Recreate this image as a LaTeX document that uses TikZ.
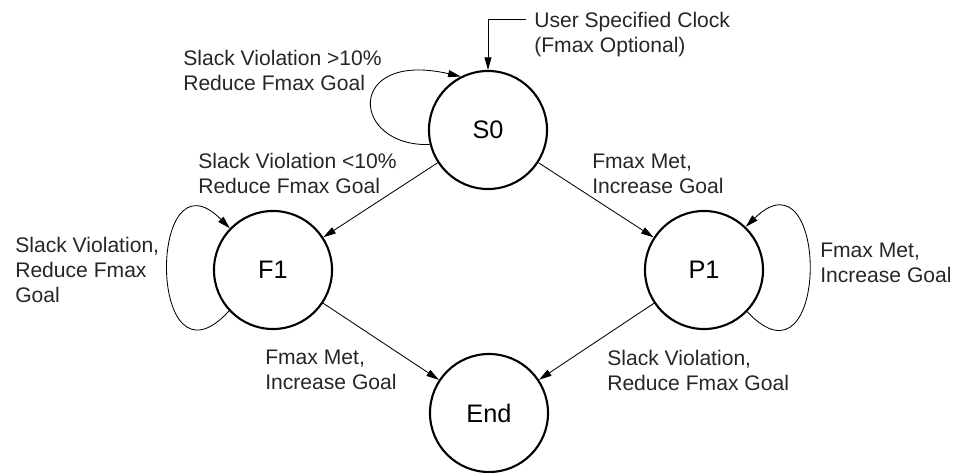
\documentclass[tikz,border=0pt]{standalone}
\usepackage{fontspec}
\setmainfont{Liberation Sans}
\usetikzlibrary{arrows.meta}
\tikzset{
  state/.style={circle, draw, line width=1.5pt, minimum size=2.95cm, inner sep=0pt, font=\fontsize{18}{20}\selectfont},
  lbl/.style={anchor=north west, align=left, inner sep=0pt, text=black!85},
  arr/.style={line width=0.6pt, -{Triangle[length=9pt,width=5pt]}}
}
\begin{document}
\begin{tikzpicture}[x=0.025cm, y=-0.025cm, font=\fontsize{15}{17.8}\selectfont]
\useasboundingbox (0,0) rectangle (963,473);
% states
\node[state] (S0) at (488,130) {S0};
\node[state] (F1) at (273,270) {F1};
\node[state] (P1) at (704,270) {P1};
\node[state] (End) at (489,413) {End};
% clock input
\node[lbl] (clk) at (534,12) {User Specified Clock\\(Fmax Optional)};
\coordinate (clkin) at (526,19);
\draw[arr] (clkin) -| (S0);
% loops
\draw[arr] (S0.194) .. controls (350,147) and (345,50) .. (S0.117);
\draw[arr] (F1.223) .. controls (147,400) and (147,145) .. (F1.136);
\draw[arr] (P1.-44) .. controls (830,400) and (830,145) .. (P1.46);
% transitions
\draw[arr] (S0) -- (F1);
\draw[arr] (S0) -- (P1);
\draw[arr] (F1) -- (End);
\draw[arr] (P1) -- (End);
% labels
\node[lbl] (l1) at (183,50) {Slack Violation >10\%\\Reduce Fmax Goal};
\node[lbl] (l2) at (198,153) {Slack Violation <10\%\\Reduce Fmax Goal};
\node[lbl] (l3) at (592,154) {Fmax Met,\\Increase Goal};
\node[lbl] (l4) at (15,237) {Slack Violation,\\Reduce Fmax\\Goal};
\node[lbl] (l5) at (820,243) {Fmax Met,\\Increase Goal};
\node[lbl] (l6) at (265,350) {Fmax Met,\\Increase Goal};
\node[lbl] (l7) at (607,350) {Slack Violation,\\Reduce Fmax Goal};
\end{tikzpicture}
\end{document}
